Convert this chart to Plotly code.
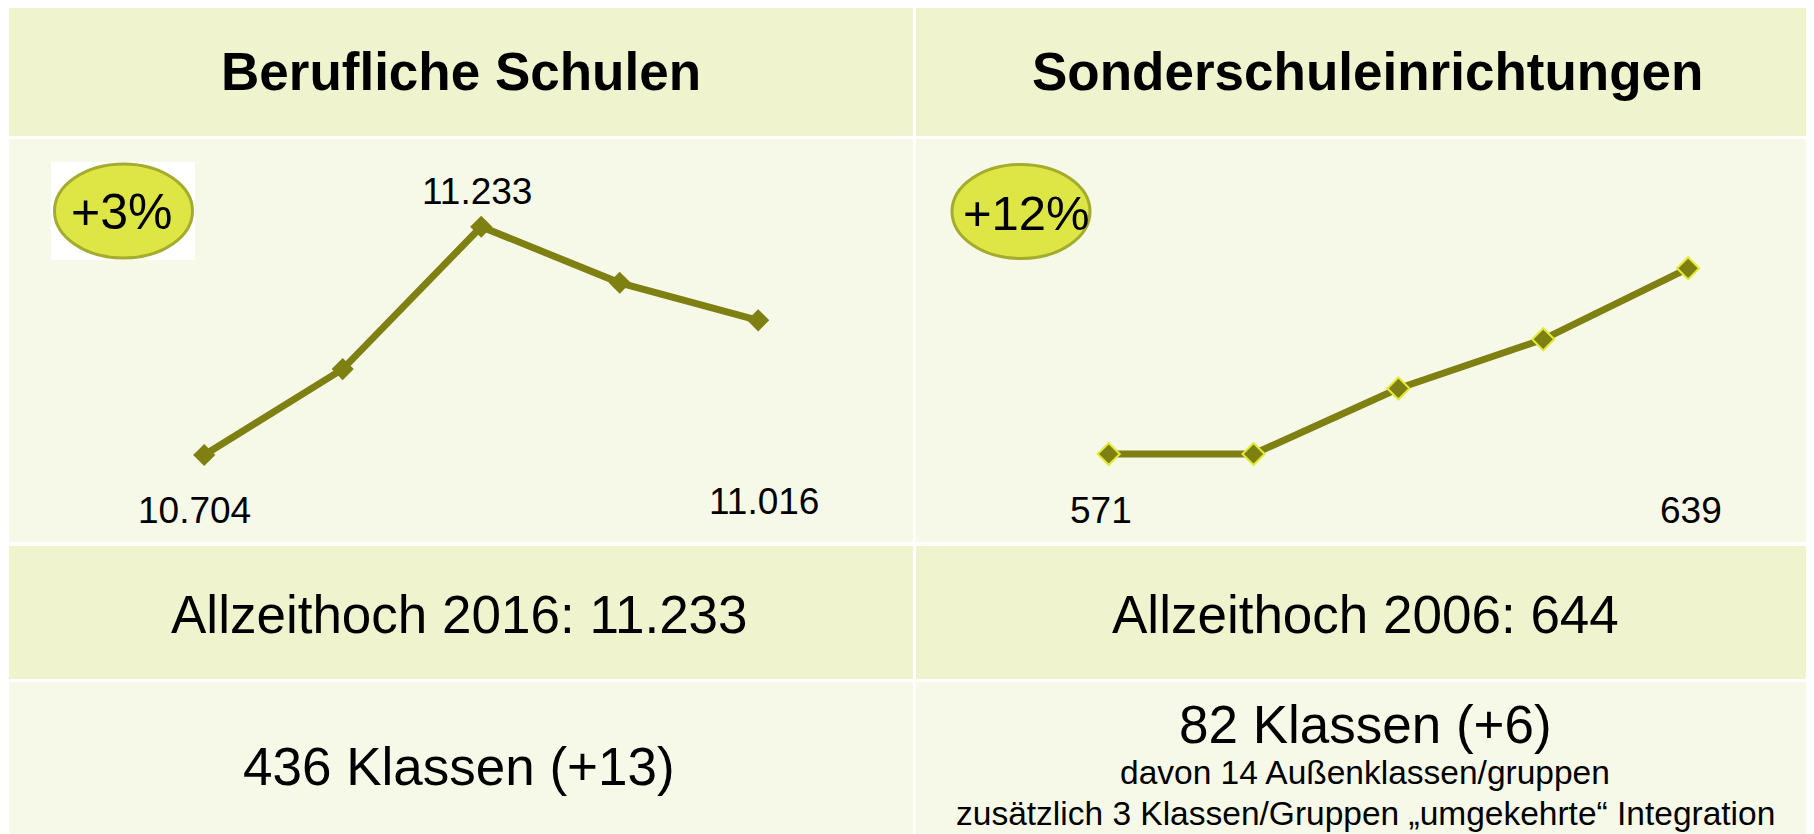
import plotly.graph_objects as go

# ---- data ----
years = [2014, 2015, 2016, 2017, 2018]
berufliche = [10.704, 10.903, 11.233, 11.103, 11.016]
sonder = [571, 571, 595, 613, 639]

titles = ["Berufliche Schulen", "Sonderschuleinrichtungen"]
badges = ["+3%", "+12%"]
allzeit = ["Allzeithoch 2016: 11.233", "Allzeithoch 2006: 644"]
klassen = ["436 Klassen (+13)", "82 Klassen (+6)"]
klassen_notes = ["davon 14 Außenklassen/gruppen",
                 "zusätzlich 3 Klassen/Gruppen „umgekehrte“ Integration"]
left_labels = ["10.704", "11.233", "11.016"]
right_labels = ["571", "639"]

W, H = 1814, 834
OFF = 8  # page body margin
def X(px): return (px - OFF) / W
def Y(py): return 1 - (py - OFF) / H

OLIVE = "#7f8012"
HEAD_BG = "#eff4ce"
LIGHT_BG = "#f6f9e8"
FONT = "Liberation Sans, Arial, sans-serif"

def axis_x(p0, p1, v0, v1, frac=0.15):
    """domain (paper) and range so that v0->pixel p0, v1->pixel p1, padded."""
    dp = (p1 - p0) * frac
    dv = (v1 - v0) * frac
    return [X(p0 - dp), X(p1 + dp)], [v0 - dv, v1 + dv]

def axis_y(p_lo, p_hi, v_lo, v_hi, frac=0.15):
    # p_lo: pixel of v_lo (lower on screen => larger py)
    dp = (p_lo - p_hi) * frac
    dv = (v_hi - v_lo) * frac
    return [Y(p_lo + dp), Y(p_hi - dp)], [v_lo - dv, v_hi + dv]

fig = go.Figure()

fig.add_trace(go.Scatter(
    x=years, y=berufliche, mode="lines+markers",
    line=dict(color=OLIVE, width=7),
    marker=dict(symbol="diamond", size=17, color=OLIVE, line=dict(width=0)),
    cliponaxis=False, xaxis="x", yaxis="y", hoverinfo="x+y"))
fig.add_trace(go.Scatter(
    x=years, y=sonder, mode="lines+markers",
    line=dict(color=OLIVE, width=7),
    marker=dict(symbol="diamond", size=17, color=OLIVE, line=dict(width=2, color="#e2ea3a")),
    cliponaxis=False, xaxis="x2", yaxis="y2", hoverinfo="x+y"))

shapes = []
cols = [(9, 913), (916, 1830)]
rows = [(4, 136, HEAD_BG), (139, 542, LIGHT_BG), (546, 679, HEAD_BG), (682, 850, LIGHT_BG)]
for (x0, x1) in cols:
    for (y0, y1, c) in rows:
        shapes.append(dict(type="rect", xref="paper", yref="paper",
                           x0=X(x0), x1=X(x1), y0=Y(y1), y1=Y(y0),
                           fillcolor=c, line=dict(width=0), layer="below"))
# white box behind left badge
shapes.append(dict(type="rect", xref="paper", yref="paper",
                   x0=X(51), x1=X(195), y0=Y(260), y1=Y(162),
                   fillcolor="white", line=dict(width=0), layer="below"))
# badges
for (cx, cy) in [(123.5, 211), (1021, 211.5)]:
    shapes.append(dict(type="circle", xref="paper", yref="paper",
                       x0=X(cx - 69), x1=X(cx + 69), y0=Y(cy + 47), y1=Y(cy - 47),
                       fillcolor="#dde645", line=dict(color="#a3ac2c", width=3)))

ann = []
def txt(text, px, py, size, bold=False, **kw):
    d = dict(text=("<b>%s</b>" % text) if bold else text, xref="paper", yref="paper",
             x=X(px), y=Y(py), xanchor="center", yanchor="middle", showarrow=False,
             font=dict(family=FONT, size=size, color="black"))
    d.update(kw)
    ann.append(d)

txt(titles[0], 461, 72, 53, bold=True)
txt(titles[1], 1367, 72, 53, bold=True)
txt(badges[0], 121, 212, 50)
txt(badges[1], 1026, 213, 49)
txt(allzeit[0], 459, 614, 53)
txt(allzeit[1], 1365, 614, 53)
txt(klassen[0], 459, 766, 53)
txt(klassen[1], 1365, 724, 53)
txt(klassen_notes[0], 1365, 772, 33.5)
txt(klassen_notes[1], 1365, 813, 33.5)

# data labels tied to data x
def dlabel(text, xv, xref, py, xshift):
    ann.append(dict(text=text, xref=xref, yref="paper", x=xv, y=Y(py),
                    xanchor="center", yanchor="middle", showarrow=False, xshift=xshift,
                    font=dict(family=FONT, size=37, color="black")))

dlabel(left_labels[0], years[0], "x", 510, -10)
dlabel(left_labels[1], years[2], "x", 192, -4)
dlabel(left_labels[2], years[4], "x", 501, 6)
dlabel(right_labels[0], years[0], "x2", 510, -8)
dlabel(right_labels[1], years[4], "x2", 510, 3)

xd1, xr1 = axis_x(204.2, 758.2, years[0], years[-1])
yd1, yr1 = axis_y(455, 226.7, min(berufliche), max(berufliche))
xd2, xr2 = axis_x(1108.7, 1688.1, years[0], years[-1])
yd2, yr2 = axis_y(454, 268.3, min(sonder), max(sonder))

ax = dict(visible=False, fixedrange=True)
fig.update_layout(
    width=W, height=H, margin=dict(l=0, r=0, t=0, b=0),
    paper_bgcolor="white", plot_bgcolor="rgba(0,0,0,0)", showlegend=False,
    xaxis=dict(domain=xd1, range=xr1, **ax),
    yaxis=dict(domain=yd1, range=yr1, **ax),
    xaxis2=dict(domain=xd2, range=xr2, anchor="y2", **ax),
    yaxis2=dict(domain=yd2, range=yr2, anchor="x2", **ax),
    shapes=shapes, annotations=ann)

fig.write_html("out.html", config={"displayModeBar": False})
